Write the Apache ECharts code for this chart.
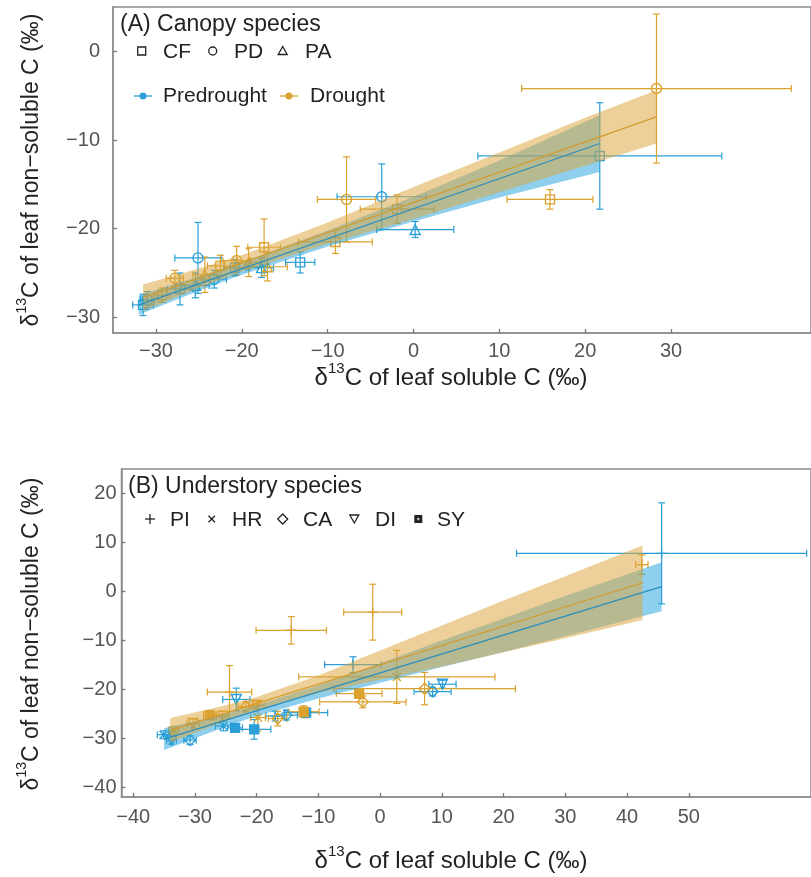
<!DOCTYPE html>
<html><head><meta charset="utf-8">
<script src="https://cdn.jsdelivr.net/npm/echarts@6/dist/echarts.min.js"></script>
<style>html,body{margin:0;padding:0;background:#fff}#c{width:811px;height:877px}</style>
</head><body><div id="c"></div>
<script>
// ---------- DATA ----------
// points: [soluble x, non-soluble y, x error, y error, species]
const canopyPredrought = [
  [21.7, -11.8, 14.2, 6.0, 'CF'],
  [-3.7, -16.4, 5.2, 3.7, 'PD'],
  [0.2, -20.1, 4.5, 0.9, 'PA'],
  [-13.2, -23.8, 1.7, 1.2, 'CF'],
  [-25.1, -23.3, 2.7, 4.0, 'PD'],
  [-17.7, -24.4, 1.4, 1.1, 'PA'],
  [-31.5, -28.6, 1.2, 1.2, 'CF'],
  [-31.0, -28.0, 0.8, 0.9, 'PD'],
  [-27.2, -26.8, 1.5, 1.8, 'CF'],
  [-25.4, -26.4, 1.6, 1.4, 'PA'],
  [-23.2, -25.7, 1.4, 1.0, 'PD'],
  [-20.8, -24.4, 1.3, 0.9, 'CF']
];
const canopyDrought = [
  [28.3, -4.2, 15.7, 8.4, 'PD'],
  [15.9, -16.7, 5.0, 1.1, 'CF'],
  [-7.8, -16.7, 3.4, 4.8, 'PD'],
  [-1.9, -17.8, 4.3, 1.6, 'CF'],
  [-9.1, -21.5, 4.3, 1.3, 'CF'],
  [-17.4, -22.1, 1.9, 3.2, 'CF'],
  [-20.6, -23.6, 1.6, 1.6, 'PD'],
  [-24.3, -25.2, 1.4, 2.0, 'PA'],
  [-29.3, -27.5, 0.9, 0.8, 'CF'],
  [-27.8, -25.6, 1.0, 0.9, 'PD'],
  [-19.2, -23.8, 1.3, 1.6, 'PA'],
  [-22.5, -24.2, 1.5, 1.2, 'CF'],
  [-17.0, -24.3, 2.3, 1.6, 'PA']
];
const understoryPredrought = [
  [45.6, 7.7, 23.5, 10.3, 'PI'],
  [-4.4, -15.0, 4.6, 1.6, 'PI'],
  [10.1, -19.0, 2.2, 0.8, 'DI'],
  [8.5, -20.5, 3.0, 0.9, 'CA'],
  [-15.2, -25.3, 1.8, 1.0, 'CA'],
  [-20.4, -28.2, 2.7, 2.0, 'SY'],
  [-23.3, -22.1, 2.2, 2.3, 'DI'],
  [-23.5, -27.9, 1.2, 0.8, 'SY'],
  [-35.1, -29.3, 1.0, 0.8, 'HR'],
  [-30.8, -30.4, 1.0, 0.9, 'CA'],
  [-33.8, -30.4, 0.8, 0.8, 'DI'],
  [-12.0, -24.8, 3.5, 1.0, 'SY'],
  [-25.4, -27.5, 1.3, 1.0, 'HR'],
  [-17.0, -25.5, 1.5, 1.0, 'PI']
];
const understoryDrought = [
  [-1.2, -4.3, 4.7, 5.7, 'PI'],
  [-14.4, -8.0, 5.7, 2.8, 'PI'],
  [42.4, 5.4, 1.0, 2.0, 'PI'],
  [2.7, -17.5, 15.9, 5.4, 'HR'],
  [7.2, -19.9, 14.7, 3.3, 'CA'],
  [-2.8, -22.6, 7.0, 1.2, 'CA'],
  [-3.4, -20.9, 3.7, 1.0, 'SY'],
  [-24.4, -20.6, 3.6, 5.4, 'PI'],
  [-12.4, -24.6, 2.5, 1.2, 'SY'],
  [-20.0, -23.3, 1.2, 0.8, 'DI'],
  [-21.8, -23.6, 1.2, 1.0, 'CA'],
  [-27.6, -25.3, 1.0, 0.9, 'SY'],
  [-30.3, -27.0, 1.0, 0.9, 'DI'],
  [-33.5, -28.4, 0.8, 0.8, 'HR'],
  [-16.6, -26.0, 1.5, 1.5, 'CA'],
  [-19.8, -25.8, 1.2, 2.8, 'HR'],
  [-25.5, -25.5, 1.0, 1.0, 'DI']
];
// regression lines (end points)
const canopyPreLine = [[-32, -28.6], [21.7, -10.4]];
const canopyDroLine = [[-31.5, -27.8], [28.3, -7.4]];
const underPreLine = [[-35, -30.2], [45.6, 0.9]];
const underDroLine = [[-34, -28.4], [42.5, 1.7]];
// confidence bands
const canopyPreBandX = [-32, -25, -20, -10, 0, 10, 21.7];
const canopyPreBandLo = [-29.7, -27.0, -25.2, -22.0, -19.2, -16.5, -13.6];
const canopyPreBandHi = [-27.5, -25.4, -23.8, -20.2, -16.4, -12.3, -7.2];
const canopyDroBandX = [-31.5, -25, -20, -10, 0, 10, 20, 28.3];
const canopyDroBandLo = [-29.3, -26.7, -24.8, -21.7, -18.9, -15.9, -12.9, -10.4];
const canopyDroBandHi = [-26.3, -24.5, -23.0, -19.3, -15.3, -11.4, -7.5, -4.4];
const underPreBandX = [-35, -25, -20, -10, 0, 10, 20, 30, 45.6];
const underPreBandLo = [-32.4, -27.6, -25.5, -21.9, -18.7, -15.5, -12.4, -9.2, -4.1];
const underPreBandHi = [-28.0, -25.0, -23.3, -19.2, -14.7, -10.1, -5.6, -1.0, 5.9];
const underDroBandX = [-34, -25, -20, -10, 0, 10, 20, 30, 42.5];
const underDroBandLo = [-30.9, -26.5, -24.2, -20.8, -18.1, -15.4, -12.5, -9.6, -5.9];
const underDroBandHi = [-25.9, -23.3, -21.6, -17.2, -12.1, -7.0, -1.9, 3.0, 9.3];
// tick labels
const canopyTicksX = [-30, -20, -10, 0, 10, 20, 30];
const canopyTicksY = [-30, -20, -10, 0];
const underTicksX = [-40, -30, -20, -10, 0, 10, 20, 30, 40, 50];
const underTicksY = [-40, -30, -20, -10, 0, 10, 20];
const canopySpecies = ['CF', 'PD', 'PA'];
const underSpecies = ['PI', 'HR', 'CA', 'DI', 'SY'];
const conditions = ['Predrought', 'Drought'];

// ---------- STYLE ----------
const BLUE = '#2b9fd6', ORANGE = '#dba22e';
const BLUE_LINE = '#2a8fbf', ORANGE_LINE = '#d49a2a';
const BLUE_BAND = 'rgba(30,160,220,0.5)', ORANGE_BAND = 'rgba(220,165,60,0.52)';
const FONT = 'Liberation Sans, Arial, sans-serif';
const SYM = {
  CF: {symbol: 'rect', size: 9},
  PD: {symbol: 'circle', size: 10},
  PA: {symbol: 'triangle', size: 10},
  PI: {symbol: 'path://M5 0L5 10M0 5L10 5', size: 10},
  HR: {symbol: 'path://M0 0L10 10M10 0L0 10', size: 8},
  CA: {symbol: 'diamond', size: 11},
  DI: {symbol: 'triangle', size: 10, rotate: 180},
  SY: {symbol: 'rect', size: 9, filled: true}
};
const fmt = v => (v < 0 ? '\u2212' + Math.abs(v) : String(v));

function scatterSeries(arr, color, gi, z) {
  return {
    type: 'scatter', xAxisIndex: gi, yAxisIndex: gi, z, silent: true,
    encode: {x: 0, y: 1},
    data: arr.map(d => {
      const s = SYM[d[4]];
      return {
        value: d, symbol: s.symbol, symbolSize: s.size, symbolRotate: s.rotate || 0,
        itemStyle: {color: s.filled ? color : 'rgba(255,255,255,0)', borderColor: color, borderWidth: 1.4, opacity: 1}
      };
    })
  };
}
function errSeries(arr, color, gi, z) {
  return {
    type: 'custom', xAxisIndex: gi, yAxisIndex: gi, z, silent: true, clip: true,
    encode: {x: 0, y: 1},
    data: arr.map(d => [d[0], d[1], d[2], d[3]]),
    renderItem(params, api) {
      const x = api.value(0), y = api.value(1), xe = api.value(2), ye = api.value(3);
      const L = api.coord([x - xe, y]), R = api.coord([x + xe, y]);
      const T = api.coord([x, y + ye]), B = api.coord([x, y - ye]);
      const c = 3.5;
      const ln = (x1, y1, x2, y2) => ({type: 'line', shape: {x1, y1, x2, y2}, style: {stroke: color, lineWidth: 1.2}});
      return {type: 'group', children: [
        ln(L[0], L[1], R[0], R[1]), ln(L[0], L[1] - c, L[0], L[1] + c), ln(R[0], R[1] - c, R[0], R[1] + c),
        ln(T[0], T[1], B[0], B[1]), ln(T[0] - c, T[1], T[0] + c, T[1]), ln(B[0] - c, B[1], B[0] + c, B[1])
      ]};
    }
  };
}
function bandSeries(xs, lo, hi, color, gi, z) {
  return {
    type: 'custom', xAxisIndex: gi, yAxisIndex: gi, z, silent: true,
    encode: {x: 0, y: 1},
    data: xs.map((x, i) => [x, lo[i], hi[i]]),
    renderItem(params, api) {
      if (params.dataIndex !== 0) return null;
      const pts = [];
      xs.forEach((x, i) => pts.push(api.coord([x, hi[i]])));
      for (let i = xs.length - 1; i >= 0; i--) pts.push(api.coord([xs[i], lo[i]]));
      return {type: 'polygon', shape: {points: pts}, style: {fill: color}};
    }
  };
}
function lineSeries(name, pts, color, gi, z) {
  return {type: 'line', name, xAxisIndex: gi, yAxisIndex: gi, z, silent: true, showSymbol: false,
    data: pts, lineStyle: {color, width: 1.2}, itemStyle: {color}};
}
function axisDef(gi, min, max, ticks, margin) {
  return {gridIndex: gi, type: 'value', min, max,
    axisLine: {show: true, onZero: false, lineStyle: {color: '#8c8c8c', width: 1.5}},
    axisTick: {show: true, inside: true, length: 4, customValues: ticks, lineStyle: {color: '#777', width: 1.3}},
    axisLabel: {customValues: ticks, formatter: fmt, color: '#555', fontSize: 20, fontFamily: FONT, margin},
    splitLine: {show: false}};
}
function titleText(x, y, label, rot, size) {
  const sup = Math.round(size * 0.62);
  return {type: 'text', x, y, rotation: rot || 0, silent: true,
    style: {text: '{d|δ}{s|13}{d|C of leaf ' + label + ' C (‰)}', align: 'center', verticalAlign: 'middle',
      rich: {d: {fontSize: size, fontFamily: FONT, fill: '#222', color: '#222', lineHeight: size + 5, verticalAlign: 'bottom'},
             s: {fontSize: sup, fontFamily: FONT, fill: '#222', color: '#222', lineHeight: size + 5, verticalAlign: 'top'}}}};
}
function txt(x, y, t, size) {
  return {type: 'text', x, y, silent: true,
    style: {text: t, fontSize: size || 21, fontFamily: FONT, fill: '#222', align: 'left', verticalAlign: 'middle'}};
}
const K = {stroke: '#222', lineWidth: 1.3, fill: 'none'};
const graphics = [
  txt(120, 25, '(A) Canopy species', 23),
  {type: 'rect', shape: {x: 137.7, y: 47, width: 8, height: 8}, style: K},
  txt(163, 52, canopySpecies[0]),
  {type: 'circle', shape: {cx: 212.7, cy: 51, r: 4}, style: K},
  txt(234, 52, canopySpecies[1]),
  {type: 'polygon', shape: {points: [[282.7, 46.5], [287.2, 54.5], [278.2, 54.5]]}, style: K},
  txt(305, 52, canopySpecies[2]),
  {type: 'line', shape: {x1: 134, y1: 96, x2: 152, y2: 96}, style: {stroke: BLUE, lineWidth: 1.3}},
  {type: 'circle', shape: {cx: 143, cy: 96, r: 3.5}, style: {fill: BLUE}},
  txt(163, 96, conditions[0]),
  {type: 'line', shape: {x1: 280, y1: 96, x2: 298, y2: 96}, style: {stroke: ORANGE, lineWidth: 1.3}},
  {type: 'circle', shape: {cx: 289, cy: 96, r: 3.5}, style: {fill: ORANGE}},
  txt(310, 96, conditions[1]),
  txt(128, 487, '(B) Understory species', 23),
  {type: 'line', shape: {x1: 145, y1: 519, x2: 155, y2: 519}, style: K},
  {type: 'line', shape: {x1: 150, y1: 514, x2: 150, y2: 524}, style: K},
  txt(170, 520, underSpecies[0]),
  {type: 'line', shape: {x1: 208.5, y1: 515.8, x2: 214.9, y2: 522.2}, style: K},
  {type: 'line', shape: {x1: 214.9, y1: 515.8, x2: 208.5, y2: 522.2}, style: K},
  txt(232, 520, underSpecies[1]),
  {type: 'polygon', shape: {points: [[282.7, 514], [287.7, 519], [282.7, 524], [277.7, 519]]}, style: K},
  txt(303, 520, underSpecies[2]),
  {type: 'polygon', shape: {points: [[349.8, 515], [358.8, 515], [354.3, 523]]}, style: K},
  txt(375, 520, underSpecies[3]),
  {type: 'rect', shape: {x: 414.3, y: 515, width: 8, height: 8}, style: {fill: '#222'}},
  {type: 'circle', shape: {cx: 418.3, cy: 519, r: 1.3}, style: {fill: '#bbb'}},
  txt(437, 520, underSpecies[4]),
  titleText(451, 376, 'soluble', 0, 24),
  titleText(451, 859, 'soluble', 0, 24),
  titleText(29, 170, 'non\u2212soluble', Math.PI / 2, 23),
  titleText(29, 634, 'non\u2212soluble', Math.PI / 2, 23)
];

const option = {
  animation: false,
  backgroundColor: '#fff',
  textStyle: {fontFamily: FONT},
  grid: [
    {left: 113, top: 7, width: 698, height: 326, show: true, borderColor: '#8c8c8c', borderWidth: 1.5, backgroundColor: 'transparent'},
    {left: 121.5, top: 469, width: 690, height: 328, show: true, borderColor: '#8c8c8c', borderWidth: 1.5, backgroundColor: 'transparent'}
  ],
  xAxis: [axisDef(0, -35, 46.3, canopyTicksX, 8), axisDef(1, -41.9, 69.8, underTicksX, 10)],
  yAxis: [axisDef(0, -31.77, 5.0, canopyTicksY, 13), axisDef(1, -42.0, 24.9, underTicksY, 5)],
  series: [
    errSeries(canopyPredrought, BLUE, 0, 2),
    errSeries(canopyDrought, ORANGE, 0, 2),
    scatterSeries(canopyPredrought, BLUE, 0, 3),
    scatterSeries(canopyDrought, ORANGE, 0, 3),
    bandSeries(canopyPreBandX, canopyPreBandLo, canopyPreBandHi, BLUE_BAND, 0, 4),
    bandSeries(canopyDroBandX, canopyDroBandLo, canopyDroBandHi, ORANGE_BAND, 0, 5),
    lineSeries('Predrought', canopyPreLine, BLUE_LINE, 0, 6),
    lineSeries('Drought', canopyDroLine, ORANGE_LINE, 0, 6),
    errSeries(understoryPredrought, BLUE, 1, 2),
    errSeries(understoryDrought, ORANGE, 1, 2),
    scatterSeries(understoryPredrought, BLUE, 1, 3),
    scatterSeries(understoryDrought, ORANGE, 1, 3),
    bandSeries(underPreBandX, underPreBandLo, underPreBandHi, BLUE_BAND, 1, 4),
    bandSeries(underDroBandX, underDroBandLo, underDroBandHi, ORANGE_BAND, 1, 5),
    lineSeries('Predrought', underPreLine, BLUE_LINE, 1, 6),
    lineSeries('Drought', underDroLine, ORANGE_LINE, 1, 6)
  ],
  graphic: {elements: graphics}
};
const chart = echarts.init(document.getElementById('c'), null, {renderer: 'canvas'});
chart.setOption(option);
</script>
</body></html>
